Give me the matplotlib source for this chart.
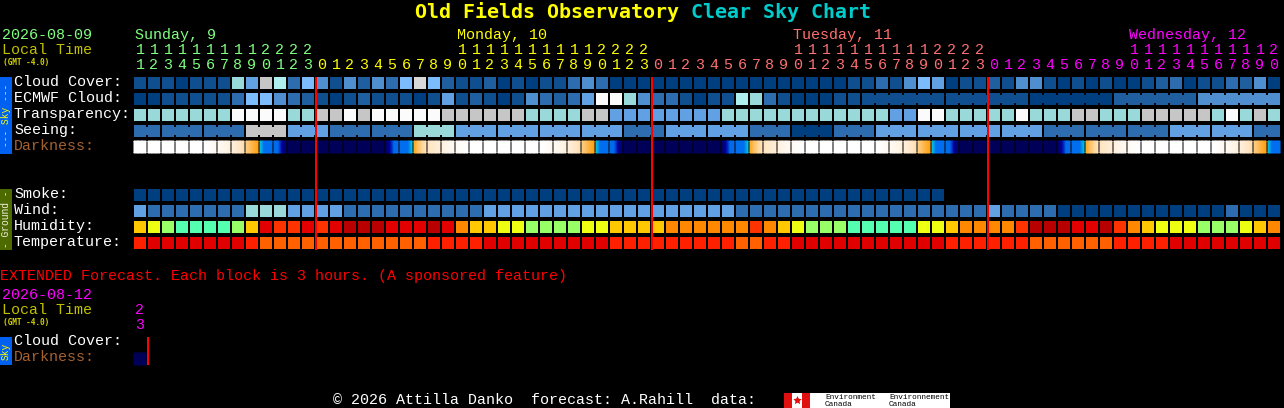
import numpy as np
import matplotlib
matplotlib.use('Agg')
import matplotlib.pyplot as plt
from matplotlib.colors import LinearSegmentedColormap, Normalize

# sky levels, clear (0) to overcast (11)
sky_colors = ['#003f7f', '#0f4f8f', '#1f5f9f', '#2d6cae', '#4f8fcf', '#61a1e3',
              '#7dbcfc', '#99d9d9', '#aeeeee', '#c6c6c6', '#d8d8d8', '#fbfbfb']
humidity_colors = ['#b80000', '#e30000', '#ff3300', '#ff8800', '#ffc800',
                   '#eeff11', '#99ff66', '#55ffb0']
temp_colors = ['#e00000', '#ff2000', '#ff6000']

cloud = [1,1,1,0,1,1,1,7,5,9,8,3,6,4,1,4,2,4,3,6,10,
         6,2,1,1,2,0,1,0,1,1,3,4,3,0,0,0,0,0,0,0,0,0,0,0,0,0,0,0,0,0,
         1,1,3,1,4,6,5,0,1,1,2,1,4,4,1,0,1,0,1,0,0,1,2,3,0,1,1,3,2,4,0]
ecmwf = [0,0,1,1,1,1,1,3,6,6,4,3,2,1,0,1,2,1,1,1,0,
         1,5,1,2,1,0,1,4,3,2,3,5,11,11,7,4,3,3,1,0,1,1,8,7,3,1,0,0,0,1,1]
ecmwf_blocks = [(6,1),(6,1),(6,0),(6,2),(6,4)]
transparency = [7,7,7,7,7,7,7,11,11,11,11,7,7,9,9,11,9,11,11,11,11,
                11,9,9,9,9,9,9,7,7,7,7,9,9,5,5,5,5,5,5,5,5,7,7,7,7,7,7,7,7,7,
                7,7,7,5,5,11,11,7,7,7,7,7,11,7,7,7,9,9,7,7,7,9,9,9,9,9,7,11,7,9,7]
seeing_blocks = [(2,3),(3,3),(3,3),(3,9),(3,5),(3,3),(3,3),(3,7),(3,5),(3,5),(3,5),
                 (3,5),(3,3),(3,5),(3,5),(3,3),(3,0),(3,3),(3,5),(3,5),(3,5),(3,5),
                 (3,3),(3,3),(3,3),(3,5),(3,5),(2,3)]
smoke = [0]*58
wind = [5,3,3,3,3,3,3,3,7,7,7,5,5,5,5,3,3,3,3,3,3,
        3,3,3,3,5,5,5,5,5,5,5,5,5,5,5,5,5,5,5,5,5,5,3,3,3,3,3,3,3,3,
        3,3,3,3,3,3,3,3,3,3,5,3,3,3,3,0,0,0,0,0,0,0,0,0,0,0,0,3,0,0,0]
humidity = [4,5,6,7,7,7,7,6,4,1,2,2,1,2,1,0,0,0,1,1,1,
            0,1,3,4,4,5,5,6,6,6,6,5,5,4,4,4,4,3,3,3,3,3,3,2,3,4,5,6,6,6,7,
            7,7,7,7,5,5,4,3,3,3,3,2,0,0,0,1,1,0,2,3,4,5,5,5,6,6,6,5,4,3]
temperature = [1,0,0,0,0,0,0,0,1,2,2,2,2,2,2,2,2,2,2,2,2,
               1,1,1,1,0,0,0,0,0,0,0,0,0,1,1,1,1,1,1,1,1,1,2,2,1,1,0,0,0,0,0,
               0,0,0,0,0,0,1,1,1,1,1,1,2,2,2,2,2,2,1,1,1,1,0,0,0,0,0,0,0,0]

# darkness score inside each block, 0 = sunlight, 100 = full dark
darkness = [
    [0,0,0,0],[0,0,0,0],[0,0,0,0],[0,0,0,0],[0,0,0,0],[0,0,6,10],[8,12,16,20],[20,24,28,32],
    [36,40,44,48],[50,54,54,54],[54,56,72,92],[100,100,100,100],[100,100,100,100],[100,100,100,100],
    [100,100,100,100],[100,100,100,100],[100,100,100,100],[100,100,100,100],[92,72,56,54],[54,54,54,50],
    [46,40,34,30],[30,26,24,22],[20,16,12,10],[8,4,2,0],[0,0,0,0],[0,0,0,0],[0,0,0,0],[0,0,0,0],[0,0,0,0],
    [0,0,6,10],[8,12,16,20],[20,24,28,32],[36,40,44,48],[50,54,54,54],[54,56,72,92],[100,100,100,100],
    [100,100,100,100],[100,100,100,100],[100,100,100,100],[100,100,100,100],[100,100,100,100],[100,100,100,100],
    [92,72,56,54],[54,54,54,50],[46,40,34,30],[30,26,24,22],[20,16,12,10],[8,4,2,0],[0,0,0,0],[0,0,0,0],
    [0,0,0,0],[0,0,0,0],[0,0,0,0],[0,0,6,10],[8,12,16,20],[20,24,28,32],[36,40,44,48],[50,54,54,54],
    [54,56,72,92],[100,100,100,100],[100,100,100,100],[100,100,100,100],[100,100,100,100],[100,100,100,100],
    [100,100,100,100],[100,100,100,100],[92,72,56,54],[54,54,54,50],[46,40,34,30],[30,26,24,22],[20,16,12,10],
    [8,4,2,0],[0,0,0,0],[0,0,0,0],[0,0,0,0],[0,0,0,0],[0,0,0,0],[0,0,6,10],[8,12,16,20],[20,24,28,32],
    [36,40,44,48],[50,54,54,54]]
extended_darkness = [[100,100,100,100]]

hours = [11,12,13,14,15,16,17,18,19,20,21,22,23] + list(range(24)) + list(range(24)) + list(range(21))
day_names = ['Sunday, 9', 'Monday, 10', 'Tuesday, 11', 'Wednesday, 12']
day_starts = [0, 13, 37, 61]
day_colors = ['#80ff80', '#ffff00', '#ff7070', '#ff00ff']
day_label_x = [135, 457, 793, 1129]

darkness_stops = [(0,'#ffffff'),(0.15,'#fff6ea'),(0.30,'#ffe4c0'),(0.40,'#ffc060'),(0.48,'#ff9f10'),
                  (0.495,'#ff9f10'),(0.50,'#00d0e0'),(0.53,'#0070f0'),(0.62,'#0060e0'),
                  (0.72,'#0000a0'),(0.90,'#000068'),(1,'#000058')]
darkness_map = LinearSegmentedColormap.from_list('darkness', darkness_stops)

X0 = 134
STEP = 14
CELL = 12
MONO = 'Liberation Mono'
BOLD = 'DejaVu Sans Mono'
BODY = 10.8

fig = plt.figure(figsize=(12.84, 4.08), dpi=100, facecolor='black')
ax = fig.add_axes([0, 0, 1, 1])
ax.set_xlim(0, 1284)
ax.set_ylim(408, 0)
ax.axis('off')


def col_x(i):
    return X0 + STEP*np.asarray(i)


def put(x, y, s, color='white', size=BODY, family=MONO, **kw):
    ax.text(x, y-0.8, s, color=color, fontsize=size, family=family, va='baseline', **kw)


def draw_row(values, y, palette, start=0):
    cols = start + np.arange(len(values))
    ax.bar(col_x(cols), CELL, width=CELL, bottom=y, align='edge', linewidth=0,
           color=[palette[v] for v in values])


def draw_blocks(blocks, y, palette, start=0):
    # several cells of one forecast block, tied together by a narrow neck
    col = start
    for count, level in blocks:
        draw_row([level]*count, y, palette, col)
        if count > 1:
            necks = col + np.arange(count-1)
            ax.bar(col_x(necks) + CELL, 8, width=STEP-CELL, bottom=y+2, align='edge',
                   linewidth=0, color=palette[level])
        col += count


def draw_darkness(samples, y, start=0):
    for i, s in enumerate(samples):
        left = col_x(start+i)
        xs = np.linspace(left, left+CELL, len(s))
        ax.pcolormesh(xs, [y, y+CELL], np.array([s, s], dtype=float), shading='gouraud',
                      cmap=darkness_map, norm=Normalize(0, 100))


def red_line(x, top, bottom):
    ax.bar(x-1, bottom-top, width=2, bottom=top, align='edge', color='#ff0000', linewidth=0, zorder=5)


# title
put(415, 18.8, 'Old Fields Observatory', '#ffff00', 14.4, BOLD, fontweight='bold')
put(691, 18.8, 'Clear Sky Chart', '#00cccc', 14.4, BOLD, fontweight='bold')

# header
put(2, 40, '2026-08-09', '#80ff80')
put(2, 55, 'Local Time', '#c0c000')
put(3, 65.3, '(GMT -4.0)', '#d0d000', 5.6, BOLD, fontweight='bold')
for name, x, c in zip(day_names, day_label_x, day_colors):
    put(x, 40, name, c)
for i, h in enumerate(hours):
    c = day_colors[np.searchsorted(day_starts, i, side='right')-1]
    if h >= 10:
        put(col_x(i)+6, 55, str(h//10), c, ha='center')
    put(col_x(i)+6, 70, str(h % 10), c, ha='center')

# rows
row_labels = ['Cloud Cover:', 'ECMWF Cloud:', 'Transparency:', 'Seeing:', 'Darkness:',
              'Smoke:', 'Wind:', 'Humidity:', 'Temperature:']
row_y = [77, 93, 109, 125, 141, 189, 205, 221, 237]
for label, y in zip(row_labels, row_y):
    put(14, y+9.5, label, '#a5622f' if label == 'Darkness:' else 'white')

draw_row(cloud, row_y[0], sky_colors)
draw_row(ecmwf, row_y[1], sky_colors)
draw_blocks(ecmwf_blocks, row_y[1], sky_colors, len(ecmwf))
draw_row(transparency, row_y[2], sky_colors)
draw_blocks(seeing_blocks, row_y[3], sky_colors)
draw_darkness(darkness, row_y[4])
draw_row(smoke, row_y[5], sky_colors)
draw_row(wind, row_y[6], sky_colors)
draw_row(humidity, row_y[7], humidity_colors)
draw_row(temperature, row_y[8], temp_colors)

# midnight lines
for d in day_starts[1:]:
    red_line(col_x(d), 77, 250)

# side bars
ax.bar(0, 77, width=12, bottom=77, align='edge', color='#0060f0', linewidth=0)
ax.text(6, 115.5, '--- Sky ---', color='#ffff00', fontsize=6.9, family=MONO,
        rotation=90, ha='center', va='center')
ax.bar(0, 61, width=12, bottom=189, align='edge', color='#4c6a00', linewidth=0)
ax.text(6, 219, '- Ground -', color='#f0f0e0', fontsize=6.9, family=MONO,
        rotation=90, ha='center', va='center')

# extended forecast
put(0, 281, 'EXTENDED Forecast. Each block is 3 hours. (A sponsored feature)', '#ff0000')
put(2, 300, '2026-08-12', '#ff00ff')
put(2, 315, 'Local Time', '#c0c000')
put(3, 325.3, '(GMT -4.0)', '#d0d000', 5.6, BOLD, fontweight='bold')
put(col_x(0)+6, 315, '2', '#ff00ff', ha='center')
put(col_x(0)+6, 330, '3', '#ff00ff', ha='center')
ax.bar(0, 28, width=12, bottom=337, align='edge', color='#0060f0', linewidth=0)
ax.text(6, 351, 'Sky', color='#ffff00', fontsize=6.9, family=MONO,
        rotation=90, ha='center', va='center')
put(14, 346, 'Cloud Cover:')
put(14, 362, 'Darkness:', '#a5622f')
draw_darkness(extended_darkness, 353)
red_line(col_x(1), 337, 365)

# footer
put(333, 405, '\u00a9 2026 Attilla Danko  forecast: A.Rahill  data:', 'white')
ax.bar(784, 15, width=166, bottom=393, align='edge', color='white', linewidth=0)
ax.bar([784, 802], 15, width=8, bottom=393, align='edge', color='#e01010', linewidth=0)
ax.scatter([797], [400], marker=(5, 1), s=40, color='#e01010', linewidths=0, zorder=4)
for x, first in zip([825, 889], ['Environment', 'Environnement']):
    put(x, 400, first, 'black', 5.6)
    put(x, 407, 'Canada', 'black', 5.6)

fig.savefig('out.png', dpi=100, facecolor='black')
